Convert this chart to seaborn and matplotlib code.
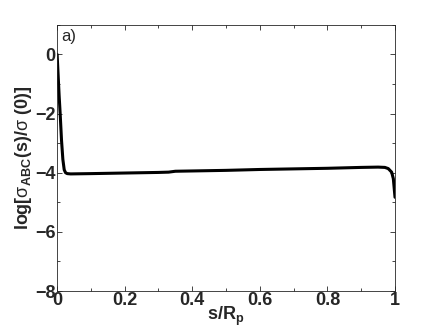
import matplotlib
matplotlib.use("Agg")
import matplotlib.pyplot as plt
from matplotlib.ticker import MultipleLocator
import pandas as pd
import seaborn as sns

# valores
s_rp = [0, 0.003, 0.006, 0.009, 0.013, 0.017, 0.021, 0.025, 0.03, 0.04,
        0.1, 0.2, 0.3, 0.33, 0.35, 0.4, 0.5, 0.6, 0.7, 0.8, 0.9, 0.95,
        0.97, 0.98, 0.99, 0.995, 1.0]
log_sigma = [0, -0.7, -1.4, -2.0, -2.9, -3.55, -3.9, -4.0, -4.03, -4.04,
             -4.03, -4.01, -3.99, -3.98, -3.95, -3.94, -3.92, -3.89, -3.87,
             -3.85, -3.82, -3.81, -3.82, -3.86, -3.98, -4.2, -4.83]

sns.set_style("ticks")
plt.rcParams["font.family"] = ["Liberation Sans", "DejaVu Sans"]
plt.rcParams["mathtext.fontset"] = "custom"
plt.rcParams["mathtext.rm"] = "Liberation Sans"
plt.rcParams["mathtext.bf"] = "Liberation Sans:bold"
plt.rcParams["mathtext.default"] = "bf"

df = pd.DataFrame({"s": s_rp, "y": log_sigma})

fig = plt.figure(figsize=(4.36, 3.27), dpi=100)
ax = fig.add_axes([0.131, 0.110, 0.775, 0.814])
sns.lineplot(data=df, x="s", y="y", color="black", linewidth=2.2, ax=ax,
             sort=False)

ax.set_xlim(0, 1)
ax.set_ylim(-8, 1)
ax.xaxis.set_major_locator(MultipleLocator(0.2))
ax.xaxis.set_minor_locator(MultipleLocator(0.1))
ax.yaxis.set_major_locator(MultipleLocator(2))
ax.yaxis.set_minor_locator(MultipleLocator(1))
ax.set_xticklabels([f"{v:g}" for v in ax.get_xticks()])
ax.tick_params(which="both", direction="in", top=True, right=True,
               labelsize=13, width=0.6, pad=1)
ax.tick_params(which="major", length=3.5)
ax.tick_params(which="minor", length=2)
for lbl in ax.get_xticklabels() + ax.get_yticklabels():
    lbl.set_fontweight("bold")
for sp in ax.spines.values():
    sp.set_linewidth(0.6)

ax.set_xlabel(r"s/R$_{p}$", fontsize=13, fontweight="bold", labelpad=-3)
ax.set_ylabel(r"log[$\mathrm{\sigma}_{ABC}$(s)/$\mathrm{\sigma}$ (0)]",
              fontsize=13, fontweight="bold", labelpad=1)
ax.text(0.012, 0.985, "a)", transform=ax.transAxes, fontsize=12,
        va="top", ha="left")

fig.savefig("out.png", dpi=100)
